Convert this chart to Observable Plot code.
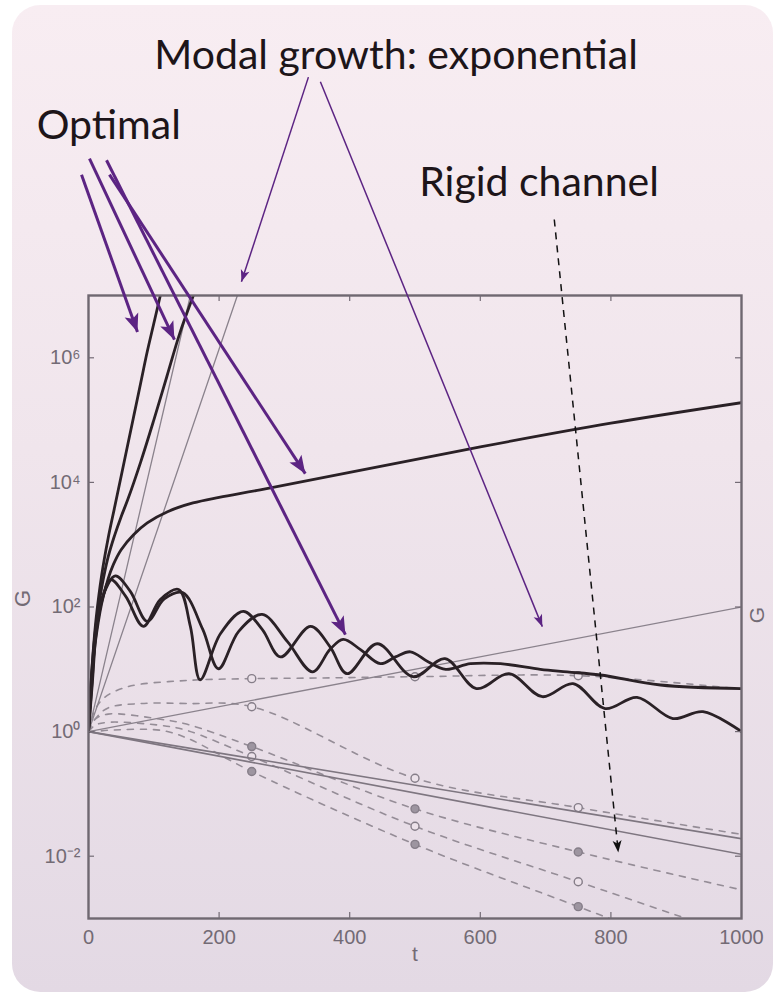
<!DOCTYPE html>
<html><head><meta charset="utf-8">
<script src="https://cdn.jsdelivr.net/npm/d3@7"></script>
<script src="https://cdn.jsdelivr.net/npm/@observablehq/plot@0.6"></script>
<style>
html,body{margin:0;padding:0;background:#fff;width:774px;height:994px;overflow:hidden;}
#panel{position:absolute;left:12px;top:5px;width:761px;height:987px;border-radius:28px;
 background:linear-gradient(180deg,#f8edf2 0%,#f0e5ec 45%,#e3d9e4 100%);}
#chart{position:absolute;left:0;top:0;}
</style></head><body>
<div id="panel"></div><div id="chart"></div>
<script>
// ---------- data (t, G) ----------
// optimal growth curves (thick)
const tOptA = [0,4,8,12,20,30,40,50,60,70,80,90,100,110,120];
const gOptA = [1,6.3,25.1,70.8,316,1259,3981,12589,39811,125893,398107,1.26e6,3.55e6,1e7,2.8e7];
const tOptB = [0,4,8,12,20,30,40,50,60,80,100,120,140,164,180];
const gOptB = [1,6.3,22.4,56.2,200,631,1413,2818,5248,21380,1e5,5.01e5,2.51e6,1.26e7,3.98e7];
const tOptC = [0,5,10,20,30,38,50,69,90,121,160,200,263,400,600,800,1000];
const gOptC = [1,7.94,25.1,112,282,479,832,1445,2239,3388,4677,5754,7586,14454,37154,89125,190546];
const tOptP = [0,6,12,21,34,57,84,110,138,156,171,202,237,266,294,340,370,396,442,497,546,594,644,695,742,791,840,895,941,1000];
const gOptP = [1,6.3,40.7,132,275,148,49,132,191,49,6.8,37.2,85.1,43.7,15.8,49,22.9,8.5,25.7,7.6,14.8,4.9,8.5,3.63,5.89,2.34,3.55,1.62,2.09,1.0];
const tOptQ = [0,6,12,21,41,64,90,116,144,175,199,230,266,305,343,370,390,416,447,470,493,520,547,585,631,692,733,784,876,1000];
const gOptQ = [1,7.6,49,141,316,178,58.9,135,170,43.7,10.2,40.7,75.9,27.5,9.1,20.9,30.2,20.9,12.3,15.8,19.1,13.2,10.0,12.3,12.3,10.0,9.1,8.1,5.6,4.9];
// modal growth (thin straight lines)
const tModal1 = [0,156], gModal1 = [1,1e7];
const tModal2 = [0,228], gModal2 = [1,1e7];
const tModal3 = [0,1000], gModal3 = [1,100];
// solid decaying lines
const tDecay1 = [0,1000], gDecay1 = [1,0.0191];
const tDecay2 = [0,1000], gDecay2 = [1,0.0107];
// rigid channel (dashed, markers at 250/500/750)
const tRigidA = [0,10,25,60,150,250,350,500,750,1000];
const gRigidA = [1,2.24,3.55,5.25,6.61,7.08,7.24,7.6,7.9,4.8];
const tRigidB = [0,10,30,80,150,250,500,750,1000];
const gRigidB = [1,1.58,2.4,2.82,2.82,2.51,0.178,0.0603,0.0224];
const tRigidC = [0,10,30,110,150,250,500,750,1000];
const gRigidC = [1,1.58,1.91,1.58,1.32,0.575,0.0575,0.0117,0.00288];
const tRigidD = [0,10,30,110,150,250,500,750,1000];
const gRigidD = [1,1.26,1.41,1.26,1.05,0.398,0.0302,0.00389,0.0005];
const tRigidE = [0,10,30,110,150,250,500,750,1000];
const gRigidE = [1,1,1.05,1.05,0.794,0.229,0.0155,0.00155,0.000158];
const markerTimes = [250,500,750];
// axes
const xTicks = [0,200,400,600,800,1000];
const yTicks = [1e-2,1,1e2,1e4,1e6];
// annotations (t, G positions)
const labels = [
  {text:"Modal growth: exponential", t:471, g:4.4e10},
  {text:"Optimal", t:31, g:3.3e9},
  {text:"Rigid channel", t:690, g:3.9e8}
];
const optimalArrows = [
  {t1:-10.7,g1:8.7e8,t2:75,g2:2.6e6},
  {t1:1.5,g1:1.58e9,t2:131.6,g2:1.95e6},
  {t1:32.1,g1:8.7e8,t2:332,g2:1.38e4},
  {t1:27.6,g1:1.48e9,t2:393.4,g2:36}
];
const modalArrows = [
  {t1:336.8,g1:3.2e10,t2:234.2,g2:1.66e7},
  {t1:355.1,g1:2.7e10,t2:695,g2:48.4}
];
const rigidArrow = [{t1:713.3,g1:1.66e8,t2:811.3,g2:0.0115}];

// ---------- build tables ----------
const mk = (id, ts, gs) => ts.map((t,i)=>({id, t, g:gs[i]}));
const thick = [...mk("A",tOptA,gOptA),...mk("B",tOptB,gOptB),...mk("C",tOptC,gOptC),...mk("P",tOptP,gOptP),...mk("Q",tOptQ,gOptQ)];
const modal = [...mk("m1",tModal1,gModal1),...mk("m2",tModal2,gModal2),...mk("m3",tModal3,gModal3)];
const decay = [...mk("d1",tDecay1,gDecay1),...mk("d2",tDecay2,gDecay2)];
const rigid = [...mk("rA",tRigidA,gRigidA),...mk("rB",tRigidB,gRigidB),...mk("rC",tRigidC,gRigidC),...mk("rD",tRigidD,gRigidD),...mk("rE",tRigidE,gRigidE)];
const rigidPts = rigid.filter(d=>markerTimes.includes(d.t));
const filledIds = ["rC","rE"];

const sup = {"-":"⁻","0":"⁰","1":"¹","2":"²","3":"³","4":"⁴","5":"⁵","6":"⁶","7":"⁷","8":"⁸","9":"⁹"};
const fmt = d => "10" + String(Math.round(Math.log10(d))).split("").map(c=>sup[c]).join("");

const W=774,H=994,mL=88,mR=33,mT=295,mB=76;
const iw=W-mL-mR, ih=H-mT-mB;
const axisCol="#736b75";

const chart = Plot.plot({
  width:W, height:H, marginLeft:mL, marginRight:mR, marginTop:mT, marginBottom:mB,
  style:{background:"transparent", fontFamily:"'Liberation Sans', Arial, sans-serif"},
  x:{domain:[0,1000], axis:null},
  y:{type:"log", domain:[1e-3,1e7], axis:null},
  marks:[
    // data
    Plot.line(rigid,{x:"t",y:"g",z:"id",stroke:"#958d97",strokeWidth:1.6,strokeDasharray:"6,7",curve:"catmull-rom",clip:true}),
    Plot.dot(rigidPts,{x:"t",y:"g",r:4,stroke:"#857d88",strokeWidth:1.4,fill:d=>filledIds.includes(d.id)?"#9d95a0":"#ece2ea",clip:true}),
    Plot.line(decay,{x:"t",y:"g",z:"id",stroke:"#7e7680",strokeWidth:1.6,clip:true}),
    Plot.line(modal,{x:"t",y:"g",z:"id",stroke:"#8a828c",strokeWidth:1.3,clip:true}),
    Plot.line(thick,{x:"t",y:"g",z:"id",stroke:"#2a2126",strokeWidth:2.8,curve:"catmull-rom",clip:true}),
    // frame & inward ticks
    Plot.frame({stroke:"#6f6871",strokeWidth:2.4}),
    Plot.tickY(yTicks,{y:d=>d,insetRight:iw-6,stroke:axisCol,strokeWidth:1.2}),
    Plot.tickY(yTicks,{y:d=>d,insetLeft:iw-6,stroke:axisCol,strokeWidth:1.2}),
    Plot.tickX(xTicks.slice(1,-1),{x:d=>d,insetTop:ih-6,stroke:axisCol,strokeWidth:1.2}),
    Plot.tickX(xTicks.slice(1,-1),{x:d=>d,insetBottom:ih-6,stroke:axisCol,strokeWidth:1.2}),
    Plot.axisX({ticks:xTicks,tickFormat:d=>String(d),tickSize:0,tickPadding:11,fontSize:20,color:axisCol,label:null}),
    Plot.axisY({ticks:yTicks,tickFormat:fmt,tickSize:0,tickPadding:8,fontSize:20,color:axisCol,label:null}),
    Plot.text(["t"],{frameAnchor:"bottom",dy:42,fontSize:21,fill:axisCol}),
    Plot.text(["G"],{frameAnchor:"left",dx:-66,rotate:-90,fontSize:22,fill:axisCol}),
    Plot.text(["G"],{frameAnchor:"right",dx:16,rotate:-90,fontSize:21,fill:axisCol}),
    // annotations
    Plot.link(optimalArrows,{x1:"t1",y1:"g1",x2:"t2",y2:"g2",stroke:"#5c2483",strokeWidth:3,markerEnd:"arrow"}),
    Plot.link(modalArrows,{x1:"t1",y1:"g1",x2:"t2",y2:"g2",stroke:"#5c2483",strokeWidth:1.5,markerEnd:"arrow"}),
    Plot.link(rigidArrow,{x1:"t1",y1:"g1",x2:"t2",y2:"g2",stroke:"#111",strokeWidth:1.5,strokeDasharray:"7,6",markerEnd:"arrow"}),
    Plot.text(labels,{x:"t",y:"g",text:"text",textAnchor:"middle",lineAnchor:"bottom",fontSize:41,fontFamily:"Lato",fill:"#1d1519"})
  ]
});

// filled arrowheads
chart.querySelectorAll("marker").forEach(m=>{
  const holder = m.parentNode && m.parentNode.closest ? m.parentNode.closest("[stroke-width]") : null;
  const sw = holder ? +holder.getAttribute("stroke-width") : 1.5;
  const col = m.getAttribute("stroke") || "#000";
  m.setAttribute("fill", col);
  m.setAttribute("stroke", "none");
  m.setAttribute("overflow", "visible");
  m.setAttribute("stroke-dasharray", "none");
  const p = m.querySelector("path");
  if (p) {
    p.setAttribute("d", sw >= 2.5 ? "M-9,-3.6L0,0L-9,3.6L-7,0Z" : "M-12,-4.5L0,0L-12,4.5L-9,0Z");
    p.setAttribute("stroke","none");
    p.setAttribute("fill", col);
  }
});
document.getElementById("chart").appendChild(chart);
</script></body></html>
